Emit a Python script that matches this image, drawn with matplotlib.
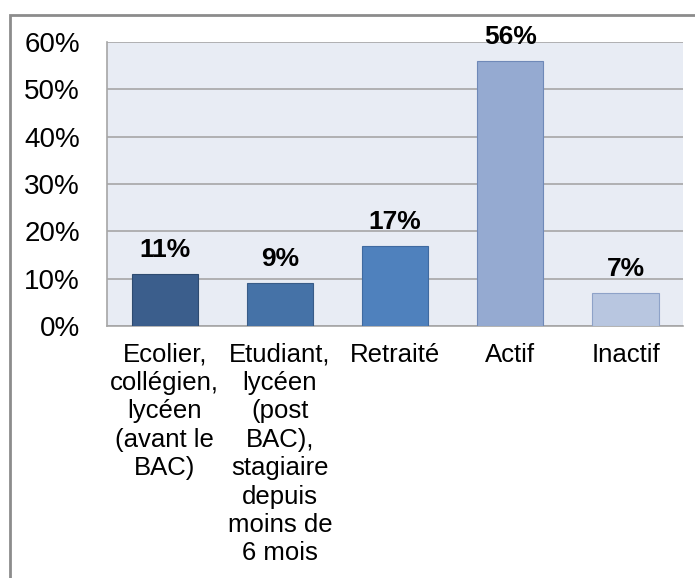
import matplotlib.pyplot as plt
from matplotlib.patches import Rectangle

categories = ["Ecolier,\ncollégien,\nlycéen\n(avant le\nBAC)",
              "Etudiant,\nlycéen\n(post\nBAC),\nstagiaire\ndepuis\nmoins de\n6 mois",
              "Retraité", "Actif", "Inactif"]
values = [11, 9, 17, 56, 7]
bar_colors = ["#3B5E8C", "#4572A7", "#4F81BD", "#95AAD1", "#B8C6E0"]
edge_colors = ["#2E4B70", "#385C88", "#3F6AA0", "#6F89B8", "#8EA2C8"]
yticks = [0, 10, 20, 30, 40, 50, 60]

plt.rcParams['font.family'] = ['Liberation Sans', 'DejaVu Sans']

fig = plt.figure(figsize=(6.95, 5.78), dpi=100)
ax = fig.add_axes([0.154, 0.436, 0.829, 0.491])

x = range(len(values))
ax.bar(x, values, width=0.575, color=bar_colors, edgecolor=edge_colors,
       linewidth=0.8, zorder=3)
for xi, v in zip(x, values):
    ax.text(xi, v + 3.6, "%d%%" % v, ha='center', va='baseline',
            fontsize=19, fontweight='bold', zorder=4)

ax.set_xlim(-0.5, len(values) - 0.5)
ax.set_ylim(0, 60)
ax.set_yticks(yticks)
ax.set_yticklabels(["%d%%" % t for t in yticks], fontsize=20)
ax.set_xticks(list(x))
ax.set_xticklabels(categories, fontsize=18.5, linespacing=1.23)
ax.tick_params(axis='both', length=0)
ax.tick_params(axis='y', pad=19.5)
ax.tick_params(axis='x', pad=12)
ax.set_facecolor("#E8ECF4")
ax.grid(axis='y', color="#A6A6A6", linewidth=1.2, zorder=0)
ax.set_axisbelow(True)
for s in ['top', 'right']:
    ax.spines[s].set_visible(False)
for s in ['left', 'bottom']:
    ax.spines[s].set_color("#A6A6A6")
    ax.spines[s].set_linewidth(1.2)

# outer chart frame
fig.patches.append(Rectangle((10 / 695, -0.1), 1.0, 1 - 15 / 578 + 0.1,
                             transform=fig.transFigure, fill=False,
                             edgecolor="#8C8C8C", linewidth=2))

fig.savefig("out.png", dpi=100)
